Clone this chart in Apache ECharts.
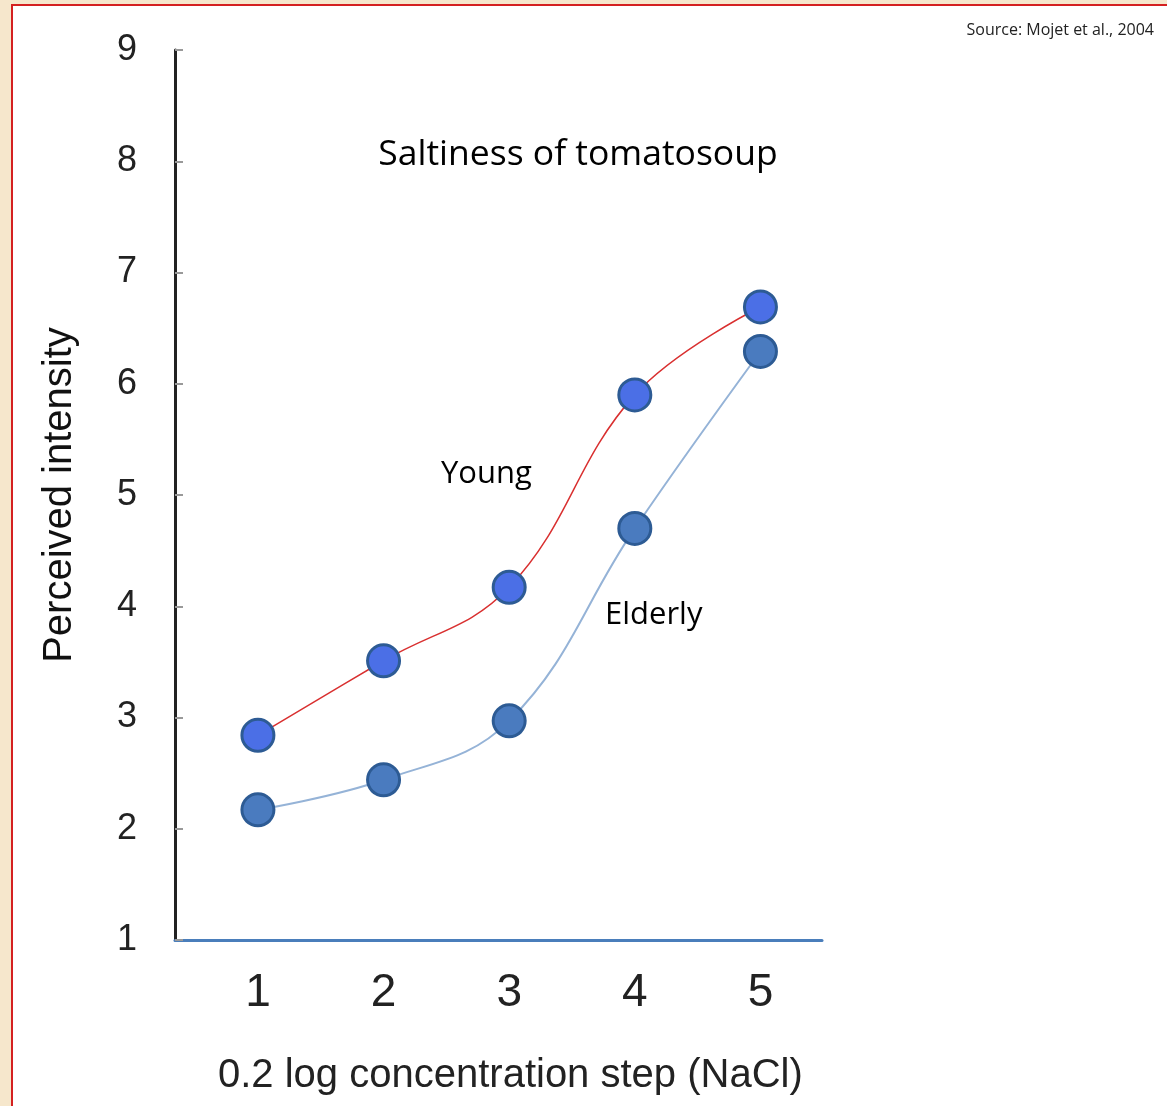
<!DOCTYPE html>
<html>
<head>
<meta charset="utf-8">
<script src="https://cdn.jsdelivr.net/npm/echarts@6/dist/echarts.min.js"></script>
<style>
  html, body { margin: 0; padding: 0; background: #f6e7cc; }
  #frame { position: absolute; left: 11px; top: 4px; width: 1160px; height: 1110px; background: #fff; border: 2px solid #d42020; box-sizing: border-box; }
  #chart { position: absolute; left: 0; top: 0; width: 1167px; height: 1106px; }
</style>
</head>
<body>
<div id="frame"></div>
<div id="chart"></div>
<script>
// concentration steps and perceived saltiness
var steps = [1, 2, 3, 4, 5];
var young = [2.84, 3.51, 4.17, 5.90, 6.69];
var elderly = [2.17, 2.44, 2.97, 4.70, 6.29];
var yTicks = [1, 2, 3, 4, 5, 6, 7, 8, 9];

function pairs(xs, ys) {
    var out = [];
    for (var i = 0; i < xs.length; i++) {
        out.push([xs[i], ys[i]]);
    }
    return out;
}

var myChart = echarts.init(document.getElementById('chart'));
var option = {
    animation: false,
    grid: { left: 175, right: 345, top: 50, bottom: 166, containLabel: false, outerBoundsMode: 'none' },
    title: [
        { text: 'Saltiness of tomatosoup', left: 573, top: 132, textAlign: 'center',
          textStyle: { fontFamily: 'Open Sans', fontSize: 35.5, fontWeight: 'normal', color: '#000' } },
        { text: 'Source: Mojet et al., 2004', right: 8, top: 17,
          textStyle: { fontFamily: 'Open Sans', fontSize: 16, fontWeight: 'normal', color: '#222' } }
    ],
    graphic: [
        { type: 'text', left: 441, top: 459, style: { text: 'Young', font: '31px "Open Sans"', fill: '#000' } },
        { type: 'text', left: 605, top: 600, style: { text: 'Elderly', font: '31px "Open Sans"', fill: '#000' } },
        { type: 'text', left: 218, top: 1056, style: { text: '0.2 log concentration step (NaCl)', font: '40px "Liberation Sans"', fill: '#222' } }
    ],
    xAxis: {
        type: 'value', min: 0.34, max: 5.49,
        axisLine: { onZero: false, lineStyle: { color: '#4a7ebb', width: 3 } },
        axisTick: { show: false },
        splitLine: { show: false },
        axisLabel: {
            fontFamily: 'Liberation Sans', fontSize: 46, color: '#222', margin: 30,
            customValues: steps
        }
    },
    yAxis: {
        type: 'value', min: 1, max: 9, interval: 1,
        name: 'Perceived intensity', nameLocation: 'middle', nameGap: 95, nameRotate: 90,
        nameTextStyle: { fontFamily: 'Liberation Sans', fontSize: 40, color: '#111' },
        axisLine: { show: true, lineStyle: { color: '#222', width: 3 } },
        axisTick: { show: true, inside: true, length: 8, lineStyle: { color: '#999', width: 2 } },
        splitLine: { show: false },
        axisLabel: { fontFamily: 'Liberation Sans', fontSize: 36, color: '#222', margin: 38,
            customValues: yTicks }
    },
    series: [
        {
            name: 'Elderly', type: 'line', smooth: 0.4,
            data: pairs(steps, elderly),
            symbol: 'circle', symbolSize: 32,
            lineStyle: { color: '#95b3d7', width: 2 },
            itemStyle: { color: '#4a7bbf', borderColor: '#2d5b94', borderWidth: 3 },
            z: 3
        },
        {
            name: 'Young', type: 'line', smooth: 0.4,
            data: pairs(steps, young),
            symbol: 'circle', symbolSize: 32,
            lineStyle: { color: '#d93030', width: 1.5 },
            itemStyle: { color: '#4b6fe6', borderColor: '#2d5b94', borderWidth: 3 },
            z: 4
        }
    ]
};
myChart.setOption(option);
</script>
</body>
</html>
